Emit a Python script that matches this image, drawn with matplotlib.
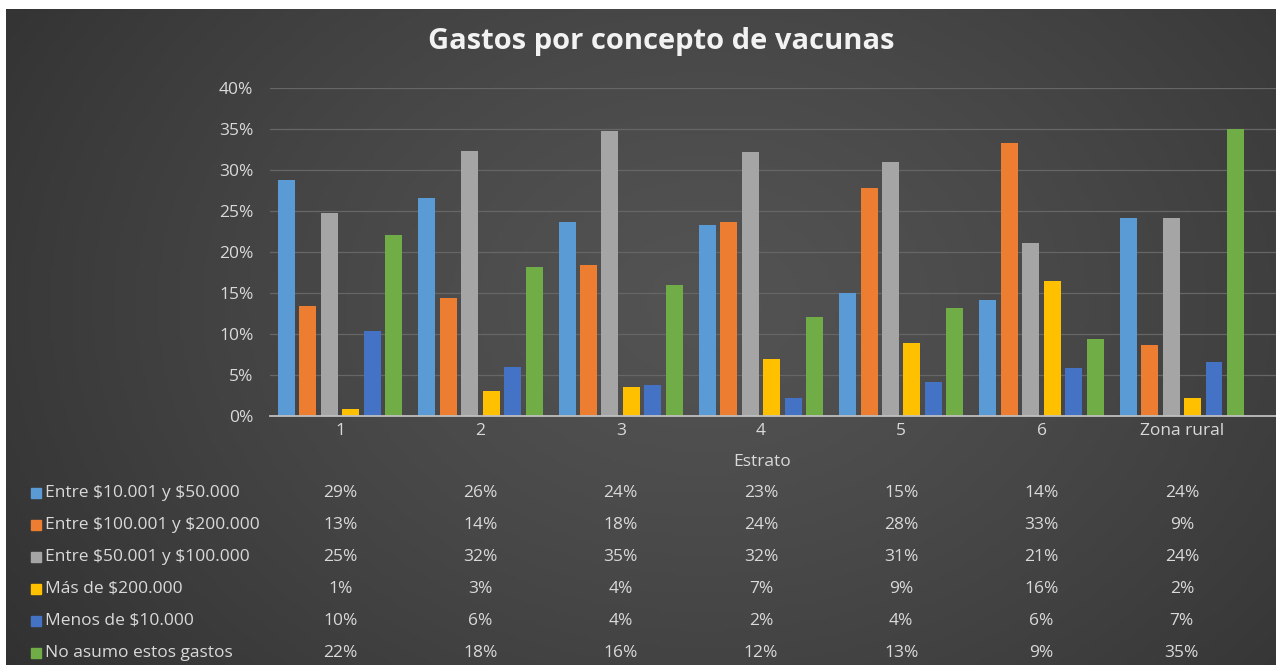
import numpy as np
import matplotlib
matplotlib.use("Agg")
import matplotlib.pyplot as plt
from matplotlib.transforms import blended_transform_factory
from matplotlib.patches import Rectangle

plt.rcParams["text.parse_math"] = False

# Data (percent)
categories = ["1", "2", "3", "4", "5", "6", "Zona rural"]
series_names = [
    "Entre $10.001 y $50.000",
    "Entre $100.001 y $200.000",
    "Entre $50.001 y $100.000",
    "Más de $200.000",
    "Menos de $10.000",
    "No asumo estos gastos",
]
entre_10_50 = [28.7, 26.5, 23.6, 23.2, 15.0, 14.1, 24.1]
entre_100_200 = [13.4, 14.4, 18.4, 23.6, 27.8, 33.2, 8.7]
entre_50_100 = [24.7, 32.3, 34.7, 32.2, 30.9, 21.1, 24.1]
mas_200 = [0.9, 3.0, 3.5, 6.9, 8.9, 16.4, 2.2]
menos_10 = [10.4, 6.0, 3.8, 2.2, 4.2, 5.8, 6.6]
no_asumo = [22.1, 18.2, 16.0, 12.1, 13.2, 9.4, 35.0]
series_values = [entre_10_50, entre_100_200, entre_50_100, mas_200, menos_10, no_asumo]

colors = ["#5B9BD5", "#ED7D31", "#A5A5A5", "#FFC000", "#4472C4", "#70AD47"]

W, H = 1276, 665
fig = plt.figure(figsize=(W / 100, H / 100), dpi=100, facecolor="white")

# gradient background (white strip on top/left as in the screenshot)
bg = fig.add_axes([6 / W, 0, 1 - 6 / W, 1 - 9 / H])
bg.set_axis_off()
yy, xx = np.mgrid[0:1:200j, 0:1:400j]
r = np.sqrt(((xx - 0.55) / 0.75) ** 2 + ((yy - 0.55) / 1.1) ** 2)
shade = 0x53 - (0x53 - 0x2c) * np.clip(r, 0, 1) ** 1.3
img = np.dstack([shade, shade, shade]) / 255.0
bg.imshow(img, aspect="auto", extent=[0, 1, 0, 1], origin="lower")
bg.set_xlim(0, 1)
bg.set_ylim(0, 1)

font = "Open Sans"
txt_color = "#d9d9d9"
fs = 12.5

ax = fig.add_axes([270 / W, (H - 416) / H, (W - 270) / W, (416 - 87.5) / H])
ax.patch.set_alpha(0)
x = np.arange(len(categories))
step, width = 0.153, 0.121
for i, (vals, c) in enumerate(zip(series_values, colors)):
    ax.bar(x + (i - 2.5) * step, vals, width, color=c, zorder=3)

ax.set_ylim(0, 40)
ax.set_xlim(-0.5, (W - 342) / 140)
ax.set_yticks(range(0, 41, 5))
ax.set_yticklabels([f"{v}%" for v in range(0, 41, 5)], fontsize=fs,
                   color=txt_color, family=font)
ax.set_xticks(x)
ax.set_xticklabels(categories, fontsize=fs, color=txt_color, family=font)
ax.tick_params(length=0)
ax.tick_params(axis="y", pad=12)
ax.tick_params(axis="x", pad=5)
for s in ["top", "right", "left"]:
    ax.spines[s].set_visible(False)
ax.spines["bottom"].set_color("#bfbfbf")
ax.spines["bottom"].set_linewidth(1.3)
ax.spines["bottom"].set_zorder(4)
ax.grid(axis="y", color="#666666", linewidth=0.9, zorder=0)

fig.text(661 / W, 1 - 42 / H, "Gastos por concepto de vacunas", ha="center",
         va="center", fontsize=21, fontweight="bold", color="#f2f2f2", family=font)
fig.text(762 / W, 1 - 462 / H, "Estrato", ha="center", va="center",
         fontsize=fs, color=txt_color, family=font)

# data table under the chart
tr = blended_transform_factory(ax.transData, fig.transFigure)
row_y = [493, 525, 557, 589, 621, 653]
for vals, name, c, yr in zip(series_values, series_names, colors, row_y):
    yf = 1 - yr / H
    fig.patches.append(Rectangle((31 / W, yf - 4.5 / H), 10 / W, 10 / H,
                                 transform=fig.transFigure, color=c))
    fig.text(45 / W, yf, name, ha="left", va="center", fontsize=fs,
             color=txt_color, family=font)
    for xi, v in zip(x, vals):
        fig.text(xi, yf, f"{v:.0f}%", transform=tr, ha="center",
                 va="center", fontsize=fs, color=txt_color, family=font)

fig.savefig("out.png", dpi=100, facecolor="white")
